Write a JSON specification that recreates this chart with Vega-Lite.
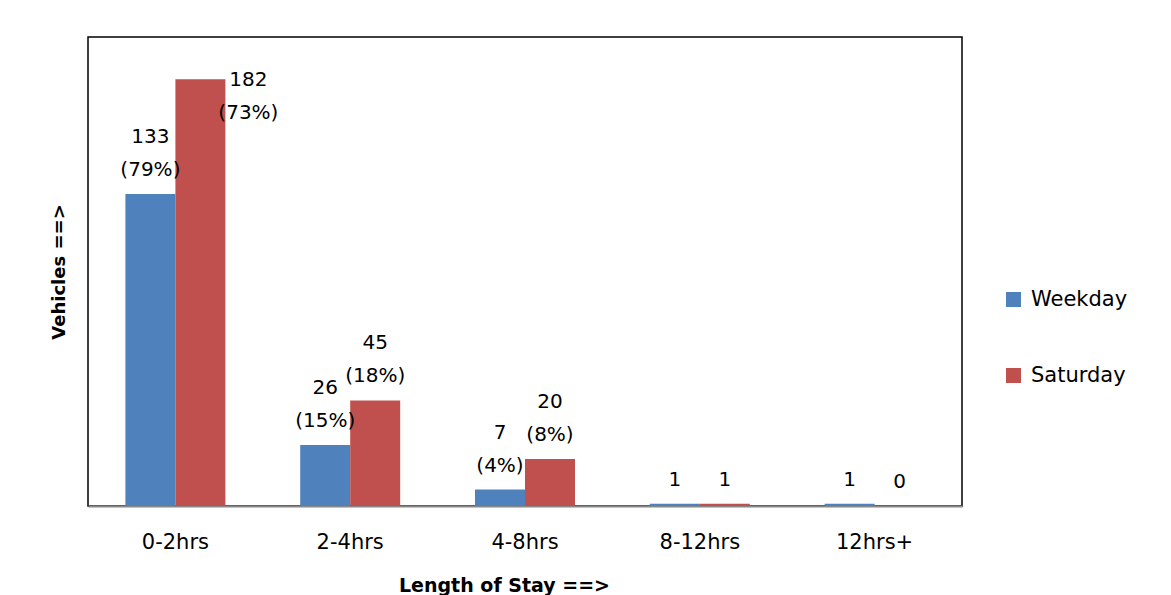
{
  "$schema": "https://vega.github.io/schema/vega-lite/v6.json",
  "autosize": {"type": "none"},
  "width": 874,
  "height": 469,
  "padding": {"left": 88, "top": 37, "right": 209, "bottom": 89},
  "background": "white",
  "config": {
    "font": "DejaVu Sans",
    "view": {"stroke": "#000000", "strokeWidth": 1.5}
  },
  "data": {
    "values": [
      {"stay": "0-2hrs", "series": "Weekday", "count": 133, "label": "133\n(79%)"},
      {"stay": "0-2hrs", "series": "Saturday", "count": 182, "label": "182\n(73%)"},
      {"stay": "2-4hrs", "series": "Weekday", "count": 26, "label": "26\n(15%)"},
      {"stay": "2-4hrs", "series": "Saturday", "count": 45, "label": "45\n(18%)"},
      {"stay": "4-8hrs", "series": "Weekday", "count": 7, "label": "7\n(4%)"},
      {"stay": "4-8hrs", "series": "Saturday", "count": 20, "label": "20\n(8%)"},
      {"stay": "8-12hrs", "series": "Weekday", "count": 1, "label": "1"},
      {"stay": "8-12hrs", "series": "Saturday", "count": 1, "label": "1"},
      {"stay": "12hrs+", "series": "Weekday", "count": 1, "label": "1"},
      {"stay": "12hrs+", "series": "Saturday", "count": 0, "label": "0"}
    ]
  },
  "encoding": {
    "x": {
      "field": "stay", "type": "nominal",
      "sort": ["0-2hrs", "2-4hrs", "4-8hrs", "8-12hrs", "12hrs+"],
      "scale": {"paddingInner": 0.428, "paddingOuter": 0.214},
      "axis": {
        "title": "Length of Stay  ==>",
        "titleFont": "DejaVu Sans", "titleFontSize": 19, "titleFontWeight": "bold", "titleColor": "#000",
        "titlePadding": 24, "titleX": 416, "titleAnchor": "middle",
        "labelAngle": 0, "labelFont": "DejaVu Sans", "labelFontSize": 21, "labelColor": "#000",
        "labelPadding": 25, "ticks": false,
        "domainColor": "#888888", "domainWidth": 2, "grid": false
      }
    },
    "xOffset": {"field": "series", "type": "nominal", "sort": ["Weekday", "Saturday"]},
    "y": {
      "field": "count", "type": "quantitative",
      "scale": {"domain": [0, 200], "nice": false},
      "axis": {
        "title": "Vehicles  ==>",
        "titleFont": "DejaVu Sans", "titleFontSize": 18, "titleFontWeight": "bold", "titleColor": "#000",
        "titlePadding": 20,
        "labels": false, "ticks": false, "domain": false, "grid": false
      }
    }
  },
  "layer": [
    {
      "mark": {"type": "bar"},
      "encoding": {
        "color": {
          "field": "series", "type": "nominal",
          "scale": {"domain": ["Weekday", "Saturday"], "range": ["#4F81BD", "#C0504D"]},
          "legend": {
            "title": null, "orient": "none", "legendX": 915, "legendY": 252,
            "symbolType": "square", "symbolSize": 225, "symbolStrokeWidth": 0,
            "labelFont": "DejaVu Sans", "labelFontSize": 21, "labelColor": "#000",
            "labelOffset": 7, "rowPadding": 54
          }
        }
      }
    },
    {
      "transform": [{"filter": "indexof(datum.label, '\\n') < 0"}],
      "mark": {"type": "text", "font": "DejaVu Sans", "fontSize": 20, "color": "#000", "baseline": "bottom", "dy": -14},
      "encoding": {"text": {"field": "label"}}
    },
    {
      "transform": [{"filter": "indexof(datum.label, '\\n') >= 0 && !(datum.stay == '0-2hrs' && datum.series == 'Saturday')"}],
      "mark": {"type": "text", "font": "DejaVu Sans", "fontSize": 20, "color": "#000", "lineBreak": "\n", "lineHeight": 33, "baseline": "bottom", "dy": -47},
      "encoding": {"text": {"field": "label"}}
    },
    {
      "transform": [{"filter": "datum.stay == '0-2hrs' && datum.series == 'Saturday'"}],
      "mark": {"type": "text", "font": "DejaVu Sans", "fontSize": 20, "color": "#000", "lineBreak": "\n", "lineHeight": 33, "baseline": "bottom", "dx": 48, "dy": 11},
      "encoding": {"text": {"field": "label"}}
    }
  ]
}
